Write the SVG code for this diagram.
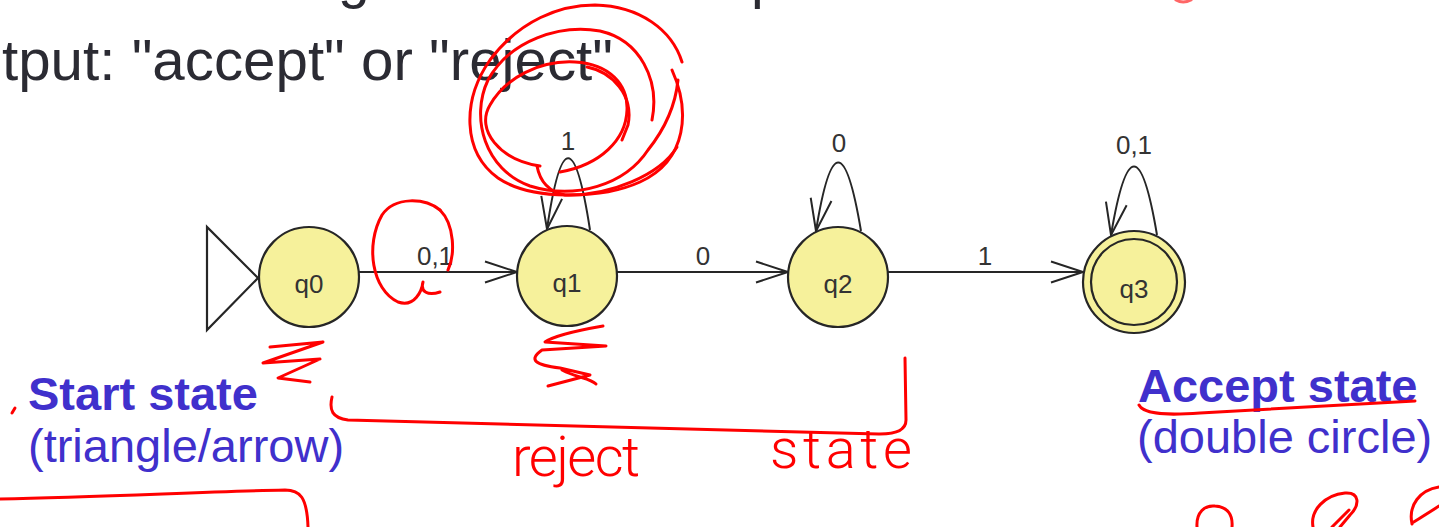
<svg xmlns="http://www.w3.org/2000/svg" width="1439" height="527" viewBox="0 0 1439 527">
<style>
.bg{fill:#ffffff}
.head{font-family:"Liberation Sans",Arial,sans-serif;font-size:57px;fill:#2b2b33}
.node{fill:#f6f19b;stroke:#262626;stroke-width:2.2}
.nlab{font-family:"Liberation Sans",Arial,sans-serif;font-size:26px;fill:#333333;text-anchor:middle}
.elab{font-family:"Liberation Sans",Arial,sans-serif;font-size:26px;fill:#333333;text-anchor:middle}
.edge{fill:none;stroke:#262626;stroke-width:2}
.blueb{font-family:"Liberation Sans",Arial,sans-serif;font-size:47px;font-weight:bold;fill:#4030cc}
.bluer{font-family:"Liberation Sans",Arial,sans-serif;font-size:47px;fill:#4030cc}
.ink{fill:none;stroke:#ff0000;stroke-width:3;stroke-linecap:round;stroke-linejoin:round}
.hand{font-family:Roboto,"Liberation Sans",sans-serif;font-weight:300;font-size:56px;fill:#ff0000}
</style>
<defs>
<marker id="open" viewBox="-34 -13 36 26" refX="0" refY="0" markerWidth="36" markerHeight="26" markerUnits="userSpaceOnUse" orient="auto" overflow="visible">
<path d="M -32 -10.5 L 0 0 L -32 10.5" fill="none" stroke="#262626" stroke-width="2"/>
</marker>
</defs>
<rect class="bg" x="0" y="0" width="1439" height="527"/>

<g id="heading">
<text class="head" x="338" y="-3">g</text>
<text class="head" x="751" y="-3">p</text>
<text class="head" x="2" y="80" textLength="611" lengthAdjust="spacingAndGlyphs">tput: "accept" or "reject"</text>
</g>

<g id="connectors">
<path class="edge" d="M 359 272 L 517 272" marker-end="url(#open)"/>
<path class="edge" d="M 617 272 L 788 272" marker-end="url(#open)"/>
<path class="edge" d="M 888 272 L 1083 272" marker-end="url(#open)"/>
<path class="edge" d="M 590 230 Q 568 87 547 229" marker-end="url(#open)"/>
<path class="edge" d="M 861 231 Q 838 94 816 231" marker-end="url(#open)"/>
<path class="edge" d="M 1157 235 Q 1134 98 1111 235" marker-end="url(#open)"/>
<text class="elab" x="435" y="265">0,1</text>
<text class="elab" x="703" y="265">0</text>
<text class="elab" x="985" y="265">1</text>
<text class="elab" x="568" y="150">1</text>
<text class="elab" x="839" y="152">0</text>
<text class="elab" x="1134" y="154">0,1</text>
</g>

<g id="q0">
<path d="M 207 227 L 207 330 L 258 278 Z" fill="none" stroke="#262626" stroke-width="2.2"/>
<circle class="node" cx="309" cy="277" r="50"/>
<text class="nlab" x="309" y="293">q0</text>
</g>
<g id="q1">
<circle class="node" cx="567" cy="276" r="50"/>
<text class="nlab" x="567" y="292">q1</text>
</g>
<g id="q2">
<circle class="node" cx="838" cy="277" r="50"/>
<text class="nlab" x="838" y="293">q2</text>
</g>
<g id="q3">
<circle class="node" cx="1134" cy="282" r="51"/>
<circle cx="1134" cy="282" r="43" fill="none" stroke="#262626" stroke-width="2.2"/>
<text class="nlab" x="1134" y="298">q3</text>
</g>

<g id="captions">
<text class="blueb" x="28" y="410">Start state</text>
<text class="bluer" x="28" y="462">(triangle/arrow)</text>
<text class="blueb" x="1138" y="402">Accept state</text>
<text class="bluer" x="1137" y="453">(double circle)</text>
</g>

<g id="annotations">
<path class="ink" d="M 672 70 C 690 110 688 160 640 182 C 600 200 530 200 498 178 C 462 152 462 100 490 60 C 520 20 560 5 595 5 C 640 6 672 30 682 62"/>
<path class="ink" d="M 652 120 C 660 80 640 40 600 31 C 560 24 510 40 488 80 C 470 118 485 170 530 186 C 575 200 625 185 648 150 C 668 125 676 100 678 80"/>
<path class="ink" d="M 540 166 C 500 160 475 130 490 105 C 505 78 540 60 575 62 C 610 64 628 85 627 110 C 626 140 600 165 560 172"/>
<path class="ink" d="M 587 67 C 612 72 634 95 628 125 L 622 140"/>
<path class="ink" d="M 537 166 C 540 182 550 192 565 195 C 610 196 660 175 677 147"/>
<path class="ink" d="M 440 210 C 425 198 395 196 382 215 C 365 245 372 290 398 302 C 415 308 422 290 423 282 C 420 292 428 296 440 292"/>
<path class="ink" d="M 440 210 C 455 225 455 255 448 270"/>
<path class="ink" d="M 270 347 L 323 342 L 263 363 L 320 359 L 278 378 L 310 382"/>
<path class="ink" d="M 603 326 C 580 330 555 335 545 342 L 606 346 L 542 350 C 528 360 535 365 560 368 L 590 375 L 548 386 M 562 370 C 577 378 590 378 596 384"/>
<path class="ink" d="M 332 397 C 329 410 332 418 348 420 C 520 425 700 430 880 434 C 900 434 906 428 906 420 L 905 358"/>
<path class="ink" d="M 0 499 C 100 497 200 492 285 490 C 300 490 307 497 308 527"/>
<path class="ink" d="M 1139 405 C 1143 413 1160 416 1200 413 L 1415 401"/>
<path class="ink" d="M 12 413 L 15 408"/>
<path class="ink" d="M 1197 527 C 1196 512 1205 505 1215 506 C 1228 507 1233 515 1232 527"/>
<path class="ink" d="M 1313 527 C 1310 510 1325 495 1345 493 C 1360 492 1360 505 1350 515 L 1340 527 M 1349 510 L 1332 527"/>
<path class="ink" d="M 1412 524 C 1408 505 1420 490 1439 487 M 1412 523 C 1420 518 1430 512 1439 506"/>
<path class="ink" d="M 1176 0 Q 1183 4 1191 0" stroke-opacity="0.6"/>
<text class="hand"><tspan x="512" y="476" textLength="128" lengthAdjust="spacing">reject</tspan><tspan x="770" y="468" textLength="142" lengthAdjust="spacing">state</tspan></text>
</g>
</svg>
